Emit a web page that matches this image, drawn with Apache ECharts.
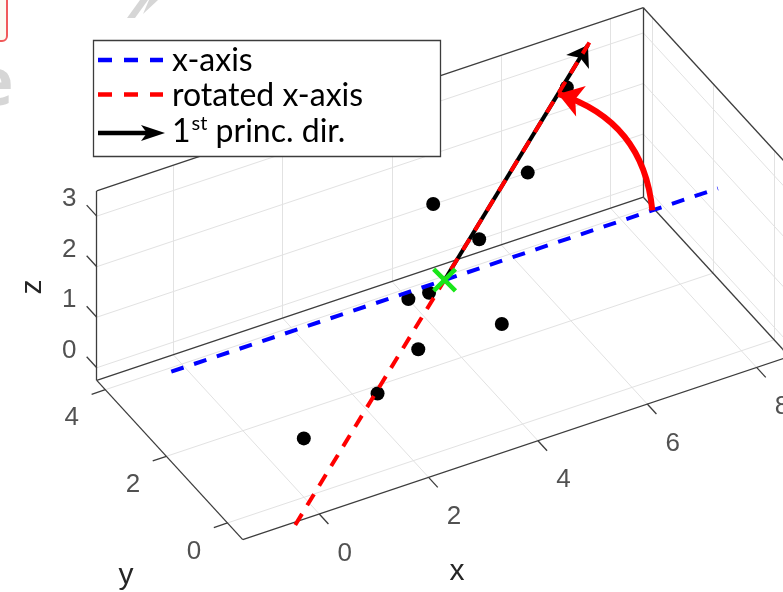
<!DOCTYPE html>
<html>
<head>
<meta charset="utf-8">
<script src="https://cdn.jsdelivr.net/npm/echarts@6/dist/echarts.min.js"></script>
<style>
  html, body { margin: 0; padding: 0; background: #ffffff; }
  #chart { width: 783px; height: 592px; }
</style>
</head>
<body>
<div id="chart"></div>
<script>
// ---- data: sample points (x, y, z) ----
const ptsX = [7.20, 5.54, 3.14, 4.35, 2.96, 3.26, 4.44, 2.61, 1.72, 0.41];
const ptsY = [4.28, 2.59, 1.39, 2.05, 1.88, 1.74, 1.47, 0.93, 0.67, 0.74];
const ptsZ = [2.43, 2.46, 3.50, 1.93, 1.36, 1.47, 0.60, 1.12, 0.74, 0.28];

// first principal direction (unit vector)
const princDir = [0.804, 0.461, 0.374];
// half length of the drawn x-axis and rotated x-axis through the mean
const axisHalfLen = 5;
// radius of the rotation arc
const arcRadius = 3.8;

// axis limits and ticks
const xLim = [-1.4, 8.6];
const yLim = [-0.5, 4.28];
const zLim = [-0.25, 3.5];
const xTicks = [0, 2, 4, 6, 8];
const yTicks = [0, 2, 4];
const zTicks = [0, 1, 2, 3];
const xTickLabels = ['0', '2', '4', '6', '8'];
const yTickLabels = ['0', '2', '4'];
const zTickLabels = ['0', '1', '2', '3'];

// ---- 3D view (orthographic, azimuth / elevation in degrees) ----
const view = { az: -29, el: 37.2, aspect: [1, 1.008, 1.015] };
const D2R = Math.PI / 180;
const ca = Math.cos(view.az * D2R), sa = Math.sin(view.az * D2R);
const ce = Math.cos(view.el * D2R), se = Math.sin(view.el * D2R);
function proj(x, y, z) {
  const X = x * view.aspect[0], Y = y * view.aspect[1], Z = z * view.aspect[2];
  return [X * ca + Y * sa, -X * sa * se + Y * ca * se + Z * ce];
}
// visible window of the projection plane
const uRange = [-4.864, 7.664];
const wRange = [-1.717, 7.755];

const [xMin, xMax] = xLim, [yMin, yMax] = yLim, [zMin, zMax] = zLim;
const seg = (a, b) => ({ coords: [proj(...a), proj(...b)] });

// mean of the points
const n = ptsX.length;
const mean = [
  ptsX.reduce((s, v) => s + v, 0) / n,
  ptsY.reduce((s, v) => s + v, 0) / n,
  ptsZ.reduce((s, v) => s + v, 0) / n
];
const along = (dir, t) => [mean[0] + dir[0] * t, mean[1] + dir[1] * t, mean[2] + dir[2] * t];
const xDir = [1, 0, 0];

// grid lines on the back wall, right wall and floor
const gridSegs = [];
xTicks.forEach(x => {
  gridSegs.push(seg([x, yMax, zMin], [x, yMax, zMax]));
  gridSegs.push(seg([x, yMin, zMin], [x, yMax, zMin]));
});
zTicks.forEach(z => {
  gridSegs.push(seg([xMin, yMax, z], [xMax, yMax, z]));
  gridSegs.push(seg([xMax, yMin, z], [xMax, yMax, z]));
});
yTicks.forEach(y => {
  gridSegs.push(seg([xMax, y, zMin], [xMax, y, zMax]));
  gridSegs.push(seg([xMin, y, zMin], [xMax, y, zMin]));
});

// box edges and axis lines
const boxSegs = [
  seg([xMin, yMax, zMin], [xMin, yMax, zMax]),
  seg([xMin, yMax, zMax], [xMax, yMax, zMax]),
  seg([xMax, yMax, zMax], [xMax, yMax, zMin]),
  seg([xMin, yMax, zMin], [xMax, yMax, zMin]),
  seg([xMax, yMax, zMax], [xMax, yMin, zMax]),
  seg([xMax, yMin, zMax], [xMax, yMin, zMin]),
  seg([xMax, yMin, zMin], [xMax, yMax, zMin]),
  seg([xMin, yMin, zMin], [xMax, yMin, zMin]),
  seg([xMin, yMin, zMin], [xMin, yMax, zMin])
];
xTicks.forEach(x => boxSegs.push(seg([x, yMin, zMin], [x, yMin - 0.3, zMin])));
yTicks.forEach(y => boxSegs.push(seg([xMin, y, zMin], [xMin - 0.25, y, zMin])));
zTicks.forEach(z => boxSegs.push(seg([xMin, yMax, z], [xMin, yMax + 0.33, z])));

const tickFont = { fontFamily: 'Liberation Sans', fontSize: 26, color: '#262626' };
function tickLabelSeries(items, offset, align) {
  return {
    type: 'scatter', symbolSize: 0, silent: true, z: 2,
    data: items,
    label: Object.assign({
      show: true, position: 'inside', offset: offset,
      align: align, verticalAlign: 'middle', formatter: '{b}'
    }, tickFont)
  };
}

const chart = echarts.init(document.getElementById('chart'), null, { renderer: 'canvas' });
chart.setOption({
  animation: false,
  backgroundColor: '#ffffff',
  grid: { left: 0, right: 0, top: 0, bottom: 0 },
  xAxis: { type: 'value', min: uRange[0], max: uRange[1], show: false },
  yAxis: { type: 'value', min: wRange[0], max: wRange[1], show: false },
  series: [
    {
      type: 'lines', coordinateSystem: 'cartesian2d', silent: true, z: 1,
      lineStyle: { color: '#e2e2e2', width: 1, opacity: 1 },
      data: gridSegs
    },
    {
      type: 'lines', coordinateSystem: 'cartesian2d', silent: true, z: 2,
      lineStyle: { color: '#3d3d3d', width: 1.3, opacity: 1 },
      data: boxSegs
    },
    tickLabelSeries(xTicks.map((x, i) => ({ name: xTickLabels[i], value: proj(x, yMin, zMin) })), [25.5, 39.5], 'center'),
    tickLabelSeries(yTicks.map((y, i) => ({ name: yTickLabels[i], value: proj(xMin, y, zMin) })), [-33.5, 28.5], 'center'),
    tickLabelSeries(zTicks.map((z, i) => ({ name: zTickLabels[i], value: proj(xMin, yMax, z) })), [-27.5, -17], 'center'),
    {
      name: 'points', type: 'scatter', z: 3, symbol: 'circle', symbolSize: 14,
      itemStyle: { color: '#000000', opacity: 1 },
      data: ptsX.map((x, i) => proj(x, ptsY[i], ptsZ[i]))
    },
    {
      name: 'x-axis', type: 'line', z: 4, symbol: 'none',
      lineStyle: { color: '#0000ff', width: 4, type: [13, 11] },
      data: [proj(...along(xDir, -axisHalfLen)), proj(...along(xDir, axisHalfLen))]
    },
    {
      name: '1st princ. dir.', type: 'lines', coordinateSystem: 'cartesian2d', z: 5,
      symbol: ['none', 'arrow'], symbolSize: 20,
      lineStyle: { color: '#000000', width: 4, opacity: 1 },
      itemStyle: { color: '#000000' },
      data: [{ coords: [proj(...mean), proj(...along(princDir, axisHalfLen * 0.96))] }]
    },
    {
      name: 'rotated x-axis', type: 'line', z: 6, symbol: 'none',
      lineStyle: { color: '#ff0000', width: 4, type: [13, 10] },
      data: [proj(...along(princDir, -axisHalfLen)), proj(...along(princDir, axisHalfLen * 0.97))]
    },
    {
      name: 'mean', type: 'scatter', z: 7, symbolSize: 25,
      symbol: 'path://M0,13L13,0L50,37L87,0L100,13L63,50L100,87L87,100L50,63L13,100L0,87L37,50Z',
      itemStyle: { color: '#19e619', opacity: 1 },
      data: [proj(...mean)]
    },
    {
      name: 'rotation', type: 'lines', coordinateSystem: 'cartesian2d', z: 8,
      symbol: ['none', 'arrow'], symbolSize: 24,
      lineStyle: { color: '#ff0000', width: 6, curveness: -0.33, opacity: 1 },
      itemStyle: { color: '#ff0000' },
      data: [{ coords: [proj(...along(xDir, arcRadius)), proj(...along(princDir, arcRadius))] }]
    }
  ],
  graphic: {
    elements: [
      // axis titles
      { type: 'text', z: 50, x: 457, y: 572, style: { text: 'x', font: '30px "Liberation Sans"', fill: '#262626', align: 'center', verticalAlign: 'middle' } },
      { type: 'text', z: 50, x: 126, y: 576, style: { text: 'y', font: '30px "Liberation Sans"', fill: '#262626', align: 'center', verticalAlign: 'middle' } },
      { type: 'text', z: 50, x: 33, y: 287, rotation: Math.PI / 2, style: { text: 'z', font: '30px "Liberation Sans"', fill: '#262626', align: 'center', verticalAlign: 'middle' } },
      // faint background fragments at the upper-left corner
      { type: 'rect', z: 50, shape: { x: -30, y: -10, width: 37, height: 51, r: 5 }, style: { fill: '#fbfaf2', stroke: '#f05a5a', lineWidth: 2 } },
      { type: 'text', z: 50, x: -6, y: 86, style: { text: 'e', font: 'bold 66px "Open Sans"', fill: '#d6d6d6', align: 'center', verticalAlign: 'middle' } },
      { type: 'polygon', z: 50, shape: { points: [[127, 18], [135, 18], [148, 0], [140, 0]] }, style: { fill: '#d6d6d6' } },
      { type: 'polygon', z: 50, shape: { points: [[143, 14], [158, 0], [149, 0]] }, style: { fill: '#d6d6d6' } },
      // legend
      {
        type: 'group', z: 100, children: [
          { type: 'rect', z: 100, shape: { x: 93.5, y: 40.5, width: 347, height: 116 }, style: { fill: '#ffffff', stroke: '#3c3c3c', lineWidth: 1.3 } },
          { type: 'line', z: 101, shape: { x1: 98, y1: 60, x2: 163, y2: 60 }, style: { stroke: '#0000ff', lineWidth: 4.5, lineDash: [14, 12] } },
          { type: 'line', z: 101, shape: { x1: 98, y1: 94.5, x2: 163, y2: 94.5 }, style: { stroke: '#ff0000', lineWidth: 4.5, lineDash: [14, 12] } },
          { type: 'line', z: 101, shape: { x1: 98, y1: 133, x2: 150, y2: 133 }, style: { stroke: '#000000', lineWidth: 4.5 } },
          { type: 'polygon', z: 101, shape: { points: [[141, 125], [165, 133], [141, 141], [147, 133]] }, style: { fill: '#000000' } },
          { type: 'text', z: 101, x: 172, y: 61, style: { text: 'x-axis', font: '32px Lato', fill: '#000000', verticalAlign: 'middle' } },
          { type: 'text', z: 101, x: 172, y: 95.5, style: { text: 'rotated x-axis', font: '32px Lato', fill: '#000000', verticalAlign: 'middle' } },
          {
            type: 'text', z: 101, x: 172, y: 132,
            style: {
              text: '{a|1}{s|st}{a| princ. dir.}', verticalAlign: 'middle', fill: '#000000',
              rich: {
                a: { fontFamily: 'Lato', fontSize: 32, lineHeight: 36 },
                s: { fontFamily: 'Lato', fontSize: 20, lineHeight: 36, verticalAlign: 'top', padding: [0, 0, 0, 1] }
              }
            }
          }
        ]
      }
    ]
  }
});
</script>
</body>
</html>
